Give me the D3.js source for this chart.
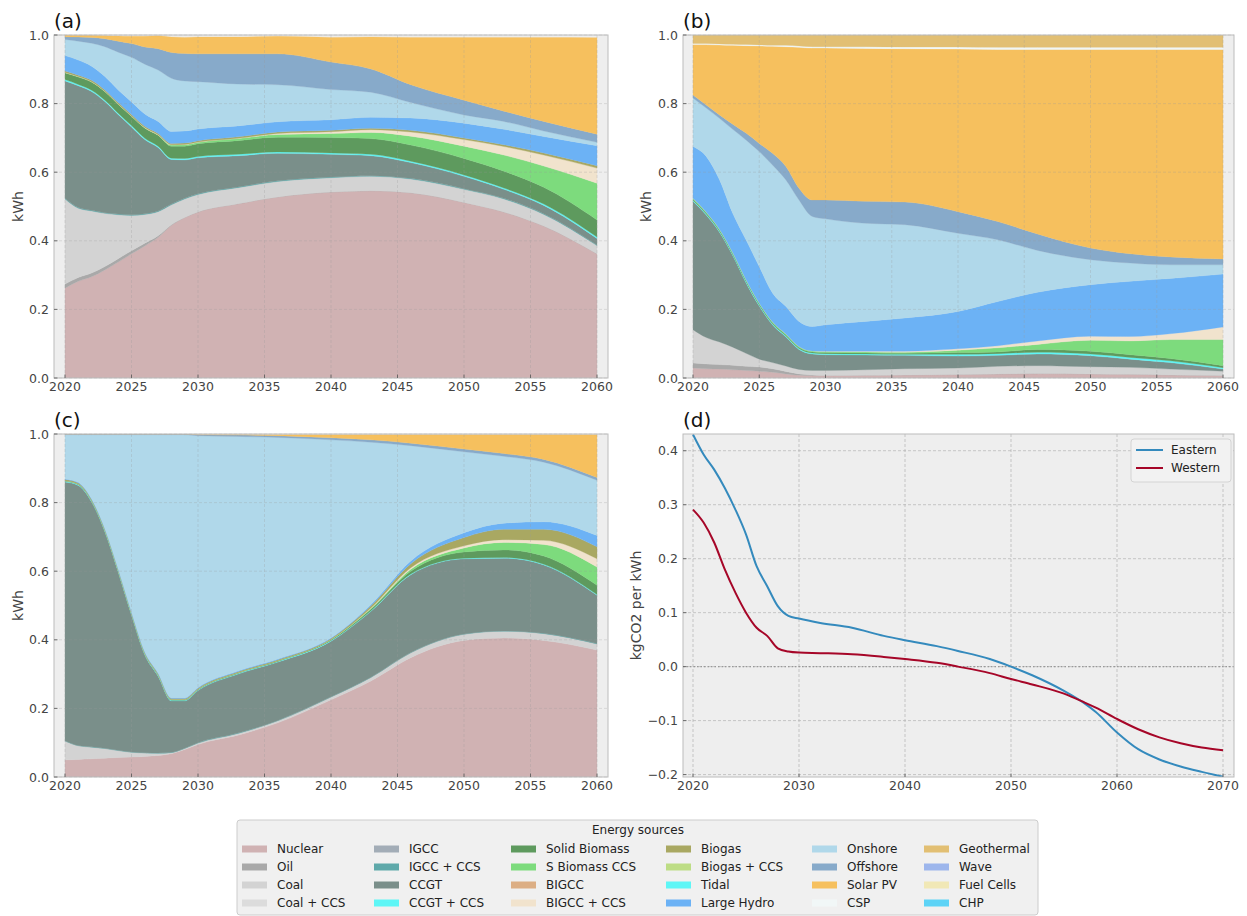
<!DOCTYPE html>
<html>
<head>
<meta charset="utf-8">
<script src="https://cdn.jsdelivr.net/npm/d3@7"></script>
<style>
  body { margin: 0; background: #fff; }
  svg { display: block; font-family: "DejaVu Sans", sans-serif; }
</style>
</head>
<body>
<svg id="chart" width="1247" height="916"></svg>
<script>
// years sampled for the three generation-mix panels
const stackYears = [2020, 2021, 2022, 2023, 2024, 2025, 2026, 2027, 2028, 2029,
  2030, 2033, 2036, 2040, 2043, 2046, 2050, 2053, 2056, 2060];

const sources = ["Nuclear", "Oil", "Coal", "Coal + CCS", "IGCC", "IGCC + CCS",
  "CCGT", "CCGT + CCS", "Solid Biomass", "S Biomass CCS", "BIGCC", "BIGCC + CCS",
  "Biogas", "Biogas + CCS", "Tidal", "Large Hydro", "Onshore", "Offshore",
  "Solar PV", "CSP", "Geothermal", "Wave", "Fuel Cells", "CHP"];

const sourceColors = ["#d0b2b3", "#a9a9a9", "#d3d3d3", "#dcdcdc", "#a3adb7", "#5fa9aa",
  "#7a8f8a", "#5ef6f6", "#5e9a5e", "#7ddb7d", "#dcae84", "#f1e3cd",
  "#a9a862", "#bddd85", "#5ef6f6", "#6cb2f5", "#b0d8ea", "#87aaca",
  "#f6c05e", "#f1f7f7", "#e2bf73", "#9db6ec", "#f1e8b6", "#5dd3f6"];

// panel (a) shares, only the sources that appear
const mixA = {
  "Nuclear": [.262, .282, .295, .315, .338, .362, .385, .41, .445, .468, .484, .508, .528, .542, .546, .54, .512, .484, .443, .362],
  "Oil": [.012, .011, .011, .010, .010, .009, .008, .005, .002, 0, 0, 0, 0, 0, 0, 0, 0, 0, 0, 0],
  "Coal": [.248, .202, .181, .155, .128, .103, .084, .07, .058, .054, .051, .047, .045, .042, .042, .04, .038, .038, .034, .024],
  "IGCC + CCS": [.002, .002, .002, .002, .002, .002, .002, .002, .002, .002, .002, .002, .002, .002, .002, .002, .002, .002, .002, .002],
  "CCGT": [.342, .355, .346, .324, .29, .256, .216, .185, .13, .112, .105, .091, .08, .066, .058, .046, .036, .026, .024, .019],
  "CCGT + CCS": [.004, .004, .004, .004, .004, .004, .004, .004, .004, .004, .004, .004, .004, .004, .004, .004, .004, .004, .004, .004],
  "Solid Biomass": [.02, .022, .024, .025, .026, .027, .03, .032, .035, .036, .037, .04, .043, .045, .046, .047, .048, .049, .049, .05],
  "S Biomass CCS": [0, 0, 0, 0, 0, 0, 0, 0, .003, .004, .004, .006, .008, .012, .018, .026, .036, .047, .062, .107],
  "BIGCC + CCS": [.001, .001, .001, .001, .001, .001, .001, .001, .001, .001, .001, .001, .003, .005, .008, .012, .019, .025, .032, .044],
  "Biogas": [.004, .004, .004, .004, .004, .004, .004, .004, .004, .004, .004, .004, .004, .004, .004, .005, .005, .005, .006, .007],
  "Large Hydro": [.045, .044, .041, .039, .037, .037, .036, .035, .035, .035, .034, .032, .030, .031, .032, .036, .043, .045, .048, .058],
  "Onshore": [.047, .055, .067, .087, .11, .13, .145, .15, .155, .146, .138, .122, .108, .088, .073, .045, .024, .023, .016, .01],
  "Offshore": [.008, .012, .017, .023, .032, .04, .05, .062, .075, .08, .081, .088, .09, .08, .068, .052, .043, .03, .028, .024],
  "Solar PV": [.005, .005, .006, .009, .015, .021, .031, .038, .045, .047, .049, .049, .051, .072, .093, .138, .183, .215, .245, .281],
};

// panel (b)
const mixB = {
  "Nuclear": [.029, .027, .026, .024, .022, .02, .017, .012, .008, .007, .007, .008, .009, .01, .012, .013, .012, .011, .009, .007],
  "Oil": [.015, .014, .013, .013, .012, .012, .01, .007, .004, .002, 0, 0, 0, 0, 0, 0, 0, 0, 0, 0],
  "Coal": [.097, .077, .066, .053, .038, .023, .018, .016, .013, .013, .015, .016, .018, .019, .022, .023, .021, .02, .017, .013],
  "CCGT": [.374, .357, .32, .267, .206, .155, .11, .085, .058, .048, .046, .043, .039, .035, .032, .034, .032, .024, .019, .006],
  "CCGT + CCS": [.003, .003, .003, .003, .003, .003, .003, .003, .003, .003, .003, .003, .003, .005, .005, .005, .005, .005, .005, .004],
  "Solid Biomass": [.003, .003, .003, .003, .003, .003, .003, .003, .003, .003, .003, .003, .003, .005, .005, .008, .008, .008, .007, .006],
  "S Biomass CCS": [.003, .003, .003, .003, .003, .003, .003, .003, .003, .003, .003, .003, .003, .007, .012, .015, .032, .04, .055, .076],
  "BIGCC + CCS": [0, 0, 0, 0, 0, 0, 0, 0, 0, 0, .001, .002, .003, .004, .006, .01, .012, .013, .017, .037],
  "Large Hydro": [.151, .162, .144, .114, .116, .106, .084, .08, .073, .071, .077, .087, .097, .109, .129, .142, .15, .161, .161, .154],
  "Onshore": [.141, .141, .179, .245, .291, .335, .373, .369, .354, .321, .309, .286, .272, .228, .18, .122, .073, .053, .04, .027],
  "Offshore": [.009, .009, .01, .015, .02, .024, .034, .039, .034, .048, .055, .064, .066, .063, .053, .048, .034, .027, .023, .017],
  "Solar PV": [.147, .176, .204, .23, .255, .284, .312, .349, .411, .443, .443, .446, .447, .474, .502, .538, .579, .596, .605, .611],
  "CSP": [.003, .003, .003, .003, .003, .003, .003, .004, .004, .004, .004, .005, .005, .006, .006, .006, .006, .006, .006, .006],
  "Geothermal": [.025, .025, .026, .027, .028, .029, .03, .03, .032, .034, .034, .034, .035, .035, .036, .036, .036, .036, .036, .036],
};

// panel (c)
const mixC = {
  "Nuclear": [.05, .051, .053, .055, .057, .058, .06, .063, .068, .08, .095, .122, .158, .225, .28, .348, .398, .405, .398, .37],
  "Coal": [.055, .04, .034, .028, .02, .014, .01, .006, .003, .003, .004, .005, .006, .008, .01, .014, .018, .02, .02, .018],
  "IGCC + CCS": [.001, .001, .001, .001, .001, .001, .001, .001, .001, .001, .001, .001, .001, .001, .001, .001, .001, .001, .001, .001],
  "CCGT": [.754, .758, .714, .631, .52, .399, .285, .224, .15, .138, .152, .172, .17, .162, .192, .227, .219, .212, .199, .141],
  "CCGT + CCS": [.002, .002, .002, .002, .002, .002, .002, .002, .002, .002, .002, .002, .002, .002, .002, .002, .002, .002, .002, .002],
  "Solid Biomass": [.002, .002, .002, .002, .002, .002, .002, .002, .002, .002, .002, .002, .002, .002, .004, .008, .018, .022, .024, .027],
  "S Biomass CCS": [0, 0, 0, 0, 0, 0, 0, 0, 0, 0, 0, 0, 0, .001, .002, .006, .012, .022, .034, .053],
  "BIGCC + CCS": [0, 0, 0, 0, 0, 0, 0, 0, 0, 0, 0, 0, 0, 0, .002, .004, .006, .008, .012, .024],
  "Biogas": [.003, .003, .003, .003, .003, .003, .003, .003, .003, .003, .003, .003, .003, .003, .006, .012, .024, .03, .032, .035],
  "Large Hydro": [.002, .002, .002, .002, .002, .002, .002, .002, .002, .002, .002, .002, .002, .002, .004, .008, .014, .018, .022, .033],
  "Onshore": [.129, .139, .187, .274, .391, .517, .633, .695, .767, .767, .734, .684, .646, .577, .473, .336, .236, .195, .174, .161],
  "Offshore": [.002, .002, .002, .002, .002, .002, .002, .002, .002, .002, .003, .004, .005, .006, .007, .007, .008, .008, .008, .008],
  "Solar PV": [0, 0, 0, 0, 0, 0, 0, 0, 0, 0, 0, .001, .003, .009, .015, .025, .042, .055, .072, .125],
};

// panel (d) carbon intensity
const lineYears = [2020, 2021, 2022, 2023, 2024, 2025, 2026, 2027, 2028, 2029, 2030, 2032, 2035, 2038,
  2040, 2043, 2045, 2048, 2050, 2052, 2055, 2057, 2058, 2060, 2062, 2064, 2066, 2068, 2070];
const eastern = [.43, .393, .365, .331, .291, .245, .186, .149, .112, .094, .089, .081, .072, .057,
  .049, .038, .029, .014, 0, -.016, -.045, -.069, -.084, -.122, -.153, -.172, -.185, -.195, -.204];
const western = [.291, .267, .23, .18, .137, .1, .072, .057, .034, .028, .026, .025, .023, .018,
  .014, .007, 0, -.012, -.023, -.033, -.05, -.067, -.076, -.097, -.116, -.131, -.142, -.15, -.155];

const shareXTicks = [2020, 2025, 2030, 2035, 2040, 2045, 2050, 2055, 2060];
const shareYTicks = [0, 0.2, 0.4, 0.6, 0.8, 1.0];
const intensityXTicks = [2020, 2030, 2040, 2050, 2060, 2070];
const intensityYTicks = [-0.2, -0.1, 0, 0.1, 0.2, 0.3, 0.4];

const svg = d3.select("#chart");
const color = d3.scaleOrdinal().domain(sources).range(sourceColors);
const fmt = d3.format(".1f");

const drawAxesBase = (p) => {
  const g = svg.append("g");
  g.append("rect")
    .attr("x", p.box.left).attr("y", p.box.top)
    .attr("width", p.box.right - p.box.left)
    .attr("height", p.box.bottom - p.box.top)
    .attr("fill", "#eeeeee");
  g.append("clipPath").attr("id", "clip-" + p.id)
    .append("rect")
    .attr("x", p.box.left).attr("y", p.box.top)
    .attr("width", p.box.right - p.box.left)
    .attr("height", p.box.bottom - p.box.top);
  return g;
};

const drawGrid = (g, p, x, y, xTicks, yTicks, opacity) => {
  const grid = g.append("g")
    .attr("stroke", "#9a9a9a")
    .attr("stroke-width", 0.6)
    .attr("stroke-dasharray", "3,2")
    .attr("opacity", opacity);
  xTicks.forEach((t) => {
    grid.append("line")
      .attr("x1", x(t)).attr("x2", x(t))
      .attr("y1", p.box.top).attr("y2", p.box.bottom);
  });
  yTicks.forEach((t) => {
    grid.append("line")
      .attr("x1", p.box.left).attr("x2", p.box.right)
      .attr("y1", y(t)).attr("y2", y(t));
  });
};

const drawAxesFront = (g, p, x, y, xTicks, yTicks, yLabel) => {
  g.append("rect")
    .attr("x", p.box.left).attr("y", p.box.top)
    .attr("width", p.box.right - p.box.left)
    .attr("height", p.box.bottom - p.box.top)
    .attr("fill", "none")
    .attr("stroke", "#bcbcbc")
    .attr("stroke-width", 1);

  xTicks.forEach((t) => {
    g.append("line")
      .attr("x1", x(t)).attr("x2", x(t))
      .attr("y1", p.box.bottom).attr("y2", p.box.bottom - 3.5)
      .attr("stroke", "#555").attr("stroke-width", 0.8);
    g.append("text")
      .attr("x", x(t)).attr("y", p.box.bottom + 13)
      .attr("text-anchor", "middle")
      .attr("font-size", "12.5px").attr("fill", "#444")
      .text(t);
  });
  yTicks.forEach((t) => {
    g.append("line")
      .attr("x1", p.box.left).attr("x2", p.box.left + 3.5)
      .attr("y1", y(t)).attr("y2", y(t))
      .attr("stroke", "#555").attr("stroke-width", 0.8);
    g.append("text")
      .attr("x", p.box.left - 5).attr("y", y(t))
      .attr("dy", "0.36em")
      .attr("text-anchor", "end")
      .attr("font-size", "12.5px").attr("fill", "#444")
      .text(fmt(t));
  });

  g.append("text")
    .attr("transform", `translate(${p.labelX}, ${(p.box.top + p.box.bottom) / 2}) rotate(-90)`)
    .attr("text-anchor", "middle")
    .attr("dy", "0.36em")
    .attr("font-size", "14px").attr("fill", "#444")
    .text(yLabel);

  g.append("text")
    .attr("x", p.box.left).attr("y", p.box.top - 7)
    .attr("font-size", "20px").attr("fill", "#111")
    .text(`(${p.id})`);
};

// stacked share panels
const stackPanels = [
  { id: "a", mix: mixA, box: { left: 54, right: 608, top: 35, bottom: 378 }, xRange: [65, 597], labelX: 18 },
  { id: "b", mix: mixB, box: { left: 683, right: 1234, top: 35, bottom: 378 }, xRange: [693, 1223], labelX: 646 },
  { id: "c", mix: mixC, box: { left: 54, right: 608, top: 434, bottom: 777 }, xRange: [65, 597], labelX: 18 },
];

stackPanels.forEach((p) => {
  const x = d3.scaleLinear().domain([2020, 2060]).range(p.xRange);
  const y = d3.scaleLinear().domain([0, 1]).range([p.box.bottom, p.box.top]);

  const rows = stackYears.map((year, i) => {
    const row = { year };
    sources.forEach((s) => {
      row[s] = p.mix[s] ? p.mix[s][i] : 0;
    });
    return row;
  });
  const layers = d3.stack().keys(sources)(rows)
    .filter((l) => p.mix[l.key]);

  const area = d3.area()
    .curve(d3.curveMonotoneX)
    .x((d) => x(d.data.year))
    .y0((d) => y(d[0]))
    .y1((d) => y(d[1]));

  const g = drawAxesBase(p);
  g.append("g")
    .attr("clip-path", `url(#clip-${p.id})`)
    .selectAll("path")
    .data(layers)
    .enter()
    .append("path")
    .attr("d", area)
    .attr("fill", (d) => color(d.key))
    .attr("stroke", (d) => color(d.key))
    .attr("stroke-width", 0.3);

  drawGrid(g, p, x, y, shareXTicks, shareYTicks, 0.45);
  drawAxesFront(g, p, x, y, shareXTicks, shareYTicks, "kWh");
});

// carbon intensity panel
const pD = { id: "d", box: { left: 683, right: 1234, top: 434, bottom: 777 }, labelX: 636 };
const xD = d3.scaleLinear().domain([2020, 2070]).range([693, 1223]);
const yD = d3.scaleLinear().domain([-0.2045, 0.431]).range([pD.box.bottom, pD.box.top]);
const gD = drawAxesBase(pD);
drawGrid(gD, pD, xD, yD, intensityXTicks, intensityYTicks, 0.8);

gD.append("line")
  .attr("x1", pD.box.left).attr("x2", pD.box.right)
  .attr("y1", yD(0)).attr("y2", yD(0))
  .attr("stroke", "#999").attr("stroke-width", 1.3)
  .attr("stroke-dasharray", "1.5,2");

const intensitySeries = [
  { name: "Eastern", values: eastern, color: "#348abd" },
  { name: "Western", values: western, color: "#a60628" },
];
const line = d3.line()
  .curve(d3.curveMonotoneX)
  .x((d, i) => xD(lineYears[i]))
  .y((d) => yD(d));

gD.append("g")
  .attr("clip-path", "url(#clip-d)")
  .selectAll("path")
  .data(intensitySeries)
  .enter()
  .append("path")
  .attr("d", (d) => line(d.values))
  .attr("fill", "none")
  .attr("stroke", (d) => d.color)
  .attr("stroke-width", 2);

drawAxesFront(gD, pD, xD, yD, intensityXTicks, intensityYTicks, "kgCO2 per kWh");

const legD = gD.append("g");
legD.append("rect")
  .attr("x", 1131).attr("y", 439).attr("width", 100).attr("height", 43)
  .attr("rx", 3)
  .attr("fill", "#f2f2f2").attr("stroke", "#d4d4d4");
intensitySeries.forEach((s, i) => {
  const ly = 450 + i * 18;
  legD.append("line")
    .attr("x1", 1136).attr("x2", 1163).attr("y1", ly).attr("y2", ly)
    .attr("stroke", s.color).attr("stroke-width", 2);
  legD.append("text")
    .attr("x", 1171).attr("y", ly).attr("dy", "0.36em")
    .attr("font-size", "12px").attr("fill", "#222")
    .text(s.name);
});

// figure legend
const legend = svg.append("g");
legend.append("rect")
  .attr("x", 237).attr("y", 820).attr("width", 801).attr("height", 95)
  .attr("rx", 3)
  .attr("fill", "#f0f0f0").attr("stroke", "#cccccc");
legend.append("text")
  .attr("x", 638).attr("y", 830).attr("dy", "0.36em")
  .attr("text-anchor", "middle")
  .attr("font-size", "12px").attr("fill", "#222")
  .text("Energy sources");

const colX = [242, 374, 511, 666, 812, 924];
const rowY = [849, 867, 885, 903];
legend.selectAll(".leg")
  .data(sources)
  .enter()
  .append("g")
  .attr("class", "leg")
  .attr("transform", (d, i) => `translate(${colX[Math.floor(i / 4)]}, ${rowY[i % 4]})`)
  .each(function (d) {
    const item = d3.select(this);
    item.append("rect")
      .attr("x", 0).attr("y", -3.5).attr("width", 25).attr("height", 7)
      .attr("fill", color(d));
    item.append("text")
      .attr("x", 35).attr("y", 0).attr("dy", "0.36em")
      .attr("font-size", "12px").attr("fill", "#222")
      .text(d);
  });
</script>
</body>
</html>
